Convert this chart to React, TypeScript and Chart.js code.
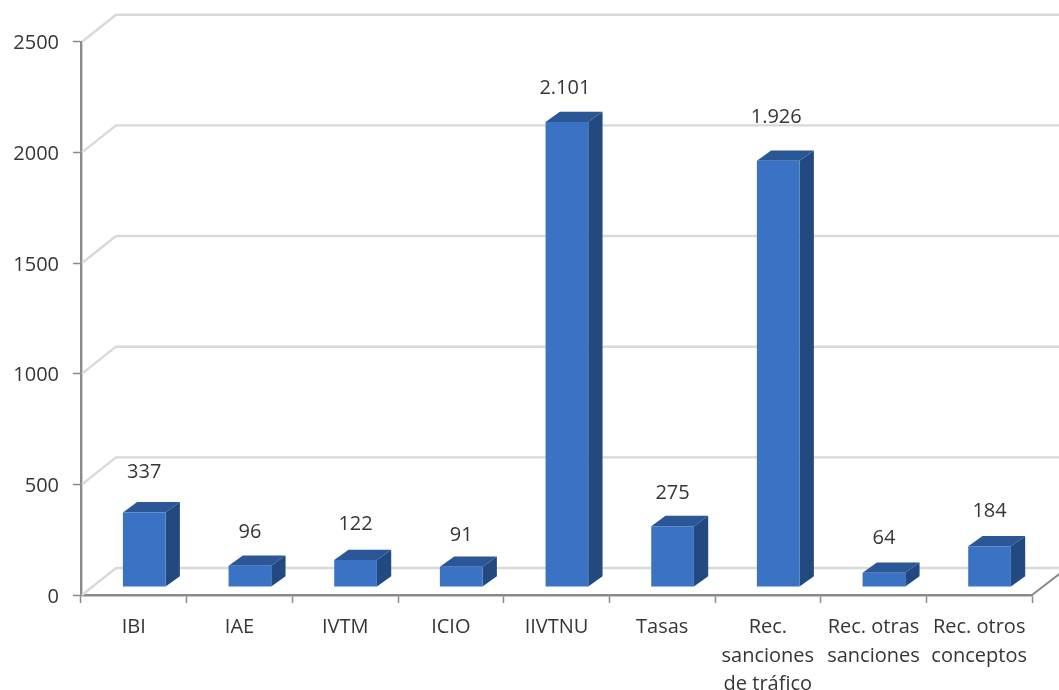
import React, { useEffect, useRef } from "react";
import { Chart, registerables } from "chart.js";

Chart.register(...registerables);

const categories: (string | string[])[] = [
  "IBI",
  "IAE",
  "IVTM",
  "ICIO",
  "IIVTNU",
  "Tasas",
  ["Rec.", "sanciones", "de tráfico"],
  ["Rec. otras", "sanciones"],
  ["Rec. otros", "conceptos"],
];
const seriesValues = [337, 96, 122, 91, 2101, 275, 1926, 64, 184];
const yTickValues = [0, 500, 1000, 1500, 2000, 2500];

const labelLift = [41, 34, 37, 33, 35, 34, 44, 36, 36];
const labelShift = [0, 0, 0, 0, -2, 0, -2, 0, 0];

const FONT = '"Open Sans", sans-serif';
const TEXT = "#363636";
const AXIS = "#8a8a8a";
const WALL = "#d9d9d9";
const FRONT = "#3a73c4";
const TOP = "#2b5797";
const SIDE = "#234a80";

const WALL_DX = 35;
const WALL_DY = -27;
const BAR_DX = 10.4;
const BAR_DY = -8;
const DEPTH_X = 14.3;
const DEPTH_Y = -10.3;

const fmt = (v: number) => String(v).replace(/\B(?=(\d{3})+$)/g, ".");

const threeD = {
  id: "threeD",
  beforeDatasetsDraw(chart: any) {
    const { ctx, scales, chartArea } = chart;
    const y = scales.y;
    ctx.save();
    ctx.lineWidth = 2.4;
    ctx.strokeStyle = WALL;
    yTickValues.forEach((v) => {
      const py = y.getPixelForValue(v);
      ctx.beginPath();
      ctx.moveTo(chartArea.left + 1, py);
      ctx.lineTo(chartArea.left + WALL_DX, py + WALL_DY);
      ctx.lineTo(chartArea.right + WALL_DX, py + WALL_DY);
      ctx.stroke();
    });
    ctx.strokeStyle = AXIS;
    ctx.lineWidth = 2;
    ctx.beginPath();
    ctx.moveTo(chartArea.right, y.getPixelForValue(0));
    ctx.lineTo(chartArea.right + WALL_DX, y.getPixelForValue(0) + WALL_DY);
    ctx.stroke();

    ctx.translate(BAR_DX, BAR_DY);
    chart.getDatasetMeta(0).data.forEach((bar: any) => {
      const half = bar.width / 2;
      const l = bar.x - half;
      const r = bar.x + half;
      ctx.fillStyle = TOP;
      ctx.beginPath();
      ctx.moveTo(l, bar.y);
      ctx.lineTo(l + DEPTH_X, bar.y + DEPTH_Y);
      ctx.lineTo(r + DEPTH_X, bar.y + DEPTH_Y);
      ctx.lineTo(r, bar.y);
      ctx.closePath();
      ctx.fill();
      ctx.fillStyle = SIDE;
      ctx.beginPath();
      ctx.moveTo(r, bar.y);
      ctx.lineTo(r + DEPTH_X, bar.y + DEPTH_Y);
      ctx.lineTo(r + DEPTH_X, bar.base + DEPTH_Y);
      ctx.lineTo(r, bar.base);
      ctx.closePath();
      ctx.fill();
    });
    ctx.restore();
    // front faces are drawn by the library, shifted onto the chart floor
    ctx.save();
    ctx.translate(BAR_DX, BAR_DY);
  },
  afterDatasetsDraw(chart: any) {
    const { ctx } = chart;
    ctx.restore();
    ctx.save();
    ctx.font = `20px ${FONT}`;
    ctx.fillStyle = TEXT;
    ctx.textAlign = "center";
    ctx.textBaseline = "middle";
    chart.getDatasetMeta(0).data.forEach((bar: any, i: number) => {
      ctx.fillText(
        fmt(seriesValues[i]),
        bar.x + BAR_DX + labelShift[i],
        bar.y + BAR_DY - labelLift[i] + 1
      );
    });
    ctx.restore();
  },
};

export default function App() {
  const ref = useRef<HTMLCanvasElement>(null);
  useEffect(() => {
    const chart = new Chart(ref.current!, {
      type: "bar",
      data: {
        labels: categories as any,
        datasets: [
          {
            data: seriesValues,
            backgroundColor: FRONT,
            borderWidth: 0,
            barPercentage: 0.404,
            categoryPercentage: 1,
            clip: false as any,
          },
        ],
      },
      options: {
        animation: false,
        responsive: false,
        devicePixelRatio: 1,
        layout: { padding: { top: 41.7, right: 27, left: 0, bottom: 0 } },
        plugins: { legend: { display: false }, tooltip: { enabled: false } },
        scales: {
          x: {
            afterFit: (s: any) => {
              s.height = 95;
            },
            grid: {
              drawOnChartArea: false,
              color: AXIS,
              tickLength: 8,
              tickWidth: 1.5,
              offset: true,
            },
            border: { color: AXIS, width: 2.4 },
            ticks: {
              autoSkip: false,
              maxRotation: 0,
              minRotation: 0,
              padding: 10,
              color: TEXT,
              font: { family: FONT, size: 20, lineHeight: 1.43 },
            },
          },
          y: {
            min: 0,
            max: 2500,
            afterFit: (s: any) => {
              s.width = 81;
            },
            afterBuildTicks: (s: any) => {
              s.ticks = yTickValues.map((value) => ({ value }));
            },
            grid: {
              drawOnChartArea: false,
              color: AXIS,
              tickLength: 8,
              tickWidth: 1.5,
            },
            border: { color: AXIS, width: 2.4 },
            ticks: {
              padding: 14,
              labelOffset: 2,
              color: TEXT,
              font: { family: FONT, size: 20 },
              callback: (v: any) => String(v),
            },
          },
        },
      },
      plugins: [threeD],
    });
    return () => chart.destroy();
  }, []);
  return (
    <div style={{ position: "absolute", left: 0, top: 0, width: 1059, height: 690, background: "#fff" }}>
      <canvas ref={ref} width={1059} height={690} style={{ display: "block" }} />
    </div>
  );
}
